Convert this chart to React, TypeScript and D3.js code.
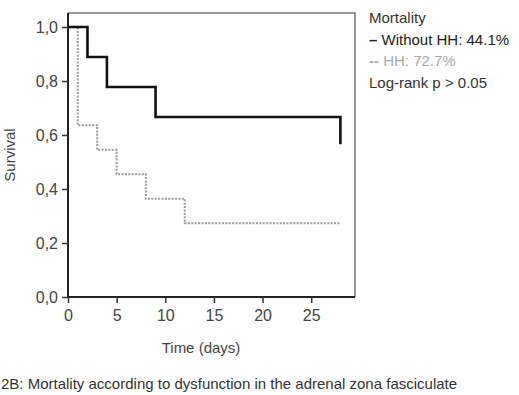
import { useEffect, useRef } from 'react'
import * as d3 from 'd3'

// Kaplan-Meier steps: [time in days, survival]
const withoutHH: [number, number][] = [
  [0, 1.0], [2, 0.889], [4, 0.778], [9, 0.667], [28, 0.566],
]
const withHH: [number, number][] = [
  [0, 1.0], [1, 0.636], [3, 0.545], [5, 0.455], [8, 0.364], [12, 0.273], [28, 0.273],
]
const xTicks = [0, 5, 10, 15, 20, 25]
const yTicks = [0, 0.2, 0.4, 0.6, 0.8, 1.0]
const legendLines = [
  { mark: '', text: 'Mortality', color: '#333' },
  { mark: '\u2013', text: ' Without HH: 44.1%', color: '#222' },
  { mark: '--', text: ' HH: 72.7%', color: '#aaa' },
  { mark: '', text: 'Log-rank p > 0.05', color: '#333' },
]
const caption = '2B: Mortality according to dysfunction in the adrenal zona fasciculate'

const FONT = '"Liberation Sans", Arial, sans-serif'

export default function App() {
  const ref = useRef<SVGSVGElement>(null)

  useEffect(() => {
    if (!ref.current) return
    const svg = d3.select(ref.current)
    svg.selectAll('*').remove()

    const left = 68, right = 355, top = 13, bottom = 297
    const x = d3.scaleLinear().domain([0, 29.5]).range([left, right])
    const y = d3.scaleLinear().domain([0, 1.052]).range([bottom, top])

    // frame: light top/right, dark left/bottom
    svg.append('path')
      .attr('d', `M${left},${top}H${right}V${bottom}`)
      .attr('fill', 'none').attr('stroke', '#777').attr('stroke-width', 1.5)

    const step = d3.line<[number, number]>()
      .x(d => x(d[0])).y(d => y(d[1]))
      .curve(d3.curveStepAfter)

    // HH group: censored at the end, no final drop
    svg.append('path')
      .attr('d', step(withHH))
      .attr('fill', 'none').attr('stroke', '#9a9a9a').attr('stroke-width', 2)
      .attr('stroke-dasharray', '2,1.4')

    // without HH: last event drops at the end of follow-up
    const solid = withoutHH.flatMap((p, i) =>
      i === 0 ? [p] : [[p[0], withoutHH[i - 1][1]] as [number, number], p])
    svg.append('path')
      .attr('d', d3.line<[number, number]>().x(d => x(d[0])).y(d => y(d[1]))(solid))
      .attr('fill', 'none').attr('stroke', '#111').attr('stroke-width', 2.6)

    // axes
    const ax = svg.append('g').attr('transform', `translate(0,${bottom})`)
      .call(d3.axisBottom(x).tickValues(xTicks).tickSize(6).tickSizeOuter(0).tickPadding(7))
    const ay = svg.append('g').attr('transform', `translate(${left},0)`)
      .call(d3.axisLeft(y).tickValues(yTicks).tickSize(6).tickSizeOuter(0).tickPadding(4)
        .tickFormat(d => d3.format('.1f')(+d).replace('.', ',')))
    ;[ax, ay].forEach(a => {
      a.select('.domain').attr('stroke', '#222').attr('stroke-width', 2)
      a.selectAll('.tick line').attr('stroke', '#333').attr('stroke-width', 1.5)
      a.selectAll('text').attr('fill', '#444').attr('font-size', '16px').attr('font-family', FONT)
    })
    ax.select('.domain').attr('d', `M${left},0H${right}`)
    ay.select('.domain').attr('d', `M0,${top}V${bottom}`)

    // axis titles
    svg.append('text')
      .attr('transform', `translate(15,${(top + bottom) / 2}) rotate(-90)`)
      .attr('text-anchor', 'middle').attr('font-size', '15px').attr('font-family', FONT)
      .attr('fill', '#444').text('Survival')
    svg.append('text')
      .attr('x', 201).attr('y', 353)
      .attr('text-anchor', 'middle').attr('font-size', '15px').attr('font-family', FONT)
      .attr('fill', '#444').text('Time (days)')

    // legend
    legendLines.forEach((l, i) => {
      const t = svg.append('text')
        .attr('x', 369).attr('y', 23 + i * 21.5)
        .attr('font-size', '15px').attr('font-family', FONT)
        .attr('fill', l.color)
      if (l.mark) t.append('tspan').attr('font-weight', 'bold').text(l.mark)
      t.append('tspan').text(l.text)
    })

    svg.append('text')
      .attr('x', 1).attr('y', 389)
      .attr('font-size', '15px').attr('font-family', FONT)
      .attr('fill', '#333').text(caption)
  }, [])

  return (
    <div style={{ position: 'fixed', left: 0, top: 0, background: '#fff' }}>
      <svg ref={ref} width={519} height={395} />
    </div>
  )
}
